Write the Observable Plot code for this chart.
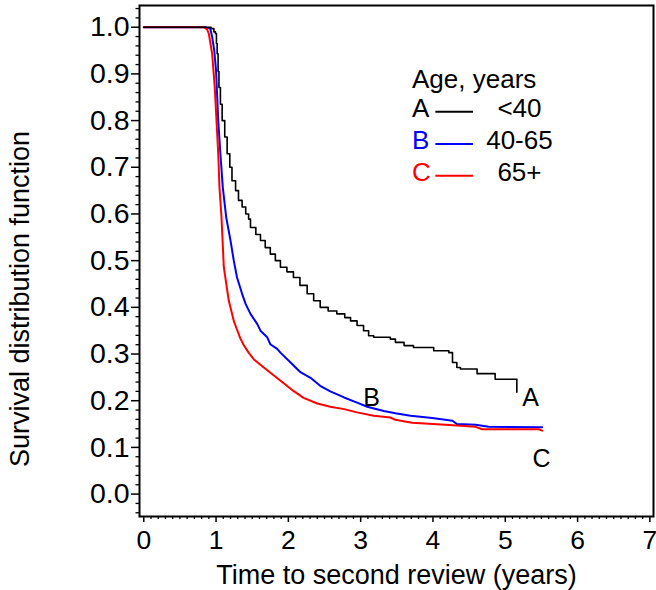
<!DOCTYPE html>
<html><head><meta charset="utf-8">
<script src="https://cdn.jsdelivr.net/npm/d3@7"></script>
<script src="https://cdn.jsdelivr.net/npm/@observablehq/plot@0.6"></script>
<style>body{margin:0;background:#fff;} svg{display:block;background:#fff}</style>
</head><body><div id="chart"></div>
<script>
// Series identity
const groups = ["A", "B", "C"];
const ageLabels = ["<40", "40-65", "65+"];
const colors = ["#000000", "#0000ff", "#ff0000"];
const legendTitle = "Age, years";
const xLabel = "Time to second review (years)";
const yLabel = "Survival distribution function";

// Curve A (<40): Kaplan-Meier estimate
const timeA = [0, 0.85, 0.93, 0.97, 0.992, 1.005, 1.015, 1.028, 1.04, 1.06, 1.084, 1.12, 1.153, 1.19, 1.22, 1.27, 1.31, 1.36, 1.41, 1.45, 1.476, 1.55, 1.614, 1.68, 1.75, 1.82, 1.89, 1.98, 2.07, 2.16, 2.26, 2.35, 2.44, 2.55, 2.67, 2.78, 2.86, 2.95, 3.04, 3.11, 3.18, 3.41, 3.48, 3.60, 3.73, 4.01, 4.22, 4.27, 4.33, 4.38, 4.61, 4.86, 5.16];
const survA = [1.0, 1.0, 0.997, 0.99, 0.986, 0.965, 0.943, 0.905, 0.871, 0.835, 0.80, 0.765, 0.729, 0.70, 0.671, 0.65, 0.629, 0.615, 0.60, 0.589, 0.571, 0.556, 0.543, 0.528, 0.514, 0.50, 0.486, 0.476, 0.464, 0.447, 0.429, 0.414, 0.40, 0.392, 0.386, 0.378, 0.371, 0.361, 0.35, 0.339, 0.336, 0.332, 0.325, 0.318, 0.314, 0.307, 0.303, 0.282, 0.271, 0.268, 0.258, 0.246, 0.218];

// Curve B (40-65)
const timeB = [0, 0.85, 0.92, 0.946, 0.975, 1.0, 1.03, 1.06, 1.093, 1.14, 1.2, 1.245, 1.29, 1.36, 1.41, 1.476, 1.57, 1.614, 1.707, 1.75, 1.845, 1.89, 2.03, 2.167, 2.306, 2.44, 2.58, 2.77, 2.95, 3.09, 3.32, 3.48, 3.69, 3.99, 4.27, 4.33, 4.59, 4.77, 5.51];
const survB = [1.0, 1.0, 0.997, 0.979, 0.95, 0.907, 0.80, 0.729, 0.657, 0.593, 0.543, 0.50, 0.464, 0.429, 0.407, 0.386, 0.364, 0.35, 0.336, 0.321, 0.311, 0.303, 0.282, 0.261, 0.249, 0.232, 0.22, 0.207, 0.196, 0.187, 0.178, 0.173, 0.168, 0.163, 0.157, 0.150, 0.1485, 0.144, 0.143];

// Curve C (65+)
const timeC = [0, 0.83, 0.877, 0.9, 0.946, 0.982, 1.006, 1.03, 1.047, 1.075, 1.107, 1.176, 1.245, 1.29, 1.337, 1.38, 1.45, 1.52, 1.66, 1.80, 1.94, 2.07, 2.21, 2.40, 2.58, 2.77, 2.95, 3.18, 3.41, 3.48, 3.71, 4.17, 4.59, 4.68, 5.46, 5.51];
const survC = [1.0, 1.0, 0.995, 0.986, 0.943, 0.871, 0.80, 0.729, 0.657, 0.593, 0.486, 0.414, 0.371, 0.352, 0.333, 0.32, 0.303, 0.289, 0.271, 0.254, 0.237, 0.221, 0.206, 0.194, 0.187, 0.182, 0.175, 0.168, 0.164, 0.159, 0.153, 0.1485, 0.144, 0.139, 0.139, 0.136];

// Axis ticks
const xTicks = [0, 1, 2, 3, 4, 5, 6, 7];
const yTicks = [0.0, 0.1, 0.2, 0.3, 0.4, 0.5, 0.6, 0.7, 0.8, 0.9, 1.0];

// End-of-curve labels
const curveLabelT = [5.35, 3.15, 5.50];
const curveLabelS = [0.206, 0.206, 0.076];

const rows = [];
[[timeA, survA], [timeB, survB], [timeC, survC]].forEach(([ts, ss], i) => {
  ts.forEach((t, j) => rows.push({group: groups[i], t, s: ss[j]}));
});
const rowsA = rows.filter(d => d.group === "A");
const rowsBC = rows.filter(d => d.group !== "A");

const xMinor = d3.range(0, 71).map(i => i / 10).filter(v => Math.abs(v - Math.round(v)) > 1e-9);
const yMinor = d3.range(-2, 53).map(i => i / 50).filter(v => Math.abs(v * 10 - Math.round(v * 10)) > 1e-9);

// legend layout (data units)
const legX = 3.71, legLine = [4.04, 4.56], legLabelX = 5.196;
const legTitleY = 0.888, legRowY = [0.825, 0.756, 0.688];
const legend = groups.map((g, i) => ({g, label: ageLabels[i], color: colors[i], y: legRowY[i]}));
const labels = groups.map((g, i) => ({g, t: curveLabelT[i], s: curveLabelS[i]}));

const font = "Liberation Sans, Arial, Helvetica, sans-serif";
const chart = Plot.plot({
  width: 656, height: 590,
  marginLeft: 139, marginRight: 3, marginTop: 5, marginBottom: 74,
  style: {fontFamily: font, background: "#fff", color: "#000"},
  x: {domain: [-0.059, 7.05]},
  y: {domain: [-0.048, 1.0465]},
  color: {domain: groups, range: colors},
  marks: [
    Plot.axisX(xMinor, {tickSize: 3, text: null, strokeWidth: 1.3, label: null}),
    Plot.axisX(xTicks, {tickSize: 6, tickPadding: 8, fontSize: 26.5, strokeWidth: 1.5, tickFormat: d3.format("d"), label: null}),
    Plot.axisY(yMinor, {tickSize: 3.5, text: null, strokeWidth: 1.3, label: null}),
    Plot.axisY(yTicks, {tickSize: 8, tickPadding: 2, fontSize: 28.5, strokeWidth: 1.5, tickFormat: d3.format(".1f"), label: null}),
    Plot.line(rowsBC, {x: "t", y: "s", z: "group", stroke: "group", strokeWidth: 2, curve: "linear"}),
    Plot.line(rowsA, {x: "t", y: "s", stroke: "group", strokeWidth: 1.6, curve: "step-after"}),
    Plot.text(labels, {x: "t", y: "s", text: "g", fontSize: 25, fill: "#000"}),
    Plot.text([legendTitle], {x: legX, y: legTitleY, text: d => d, textAnchor: "start", fontSize: 26, fill: "#000"}),
    Plot.text(legend, {x: legX, y: "y", text: "g", textAnchor: "start", fontSize: 26, fill: "color"}),
    Plot.ruleY(legend, {x1: legLine[0], x2: legLine[1], y: d => d.y - 0.006, stroke: "color", strokeWidth: 2}),
    Plot.text(legend, {x: legLabelX, y: "y", text: "label", fontSize: 26, fill: "#000"}),
    Plot.text([xLabel], {frameAnchor: "bottom", lineAnchor: "middle", dy: 58.7, text: d => d, fontSize: 27, fill: "#000"}),
    Plot.text([yLabel], {frameAnchor: "left", textAnchor: "middle", lineAnchor: "middle", dx: -119, dy: 38, rotate: -90, text: d => d, fontSize: 27, fill: "#000"}),
    Plot.frame({stroke: "#000", strokeWidth: 2})
  ]
});
document.getElementById("chart").appendChild(chart);
</script>
</body></html>
